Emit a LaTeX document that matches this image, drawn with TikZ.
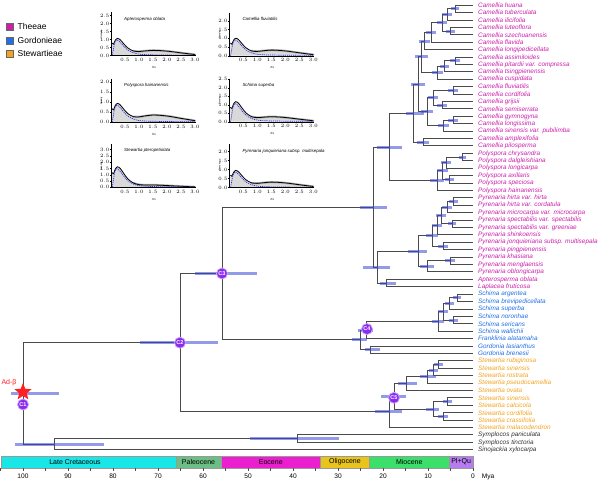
\documentclass[tikz,border=0pt]{standalone}
\usepackage{fontspec}
\setmainfont{Liberation Sans}
\usetikzlibrary{shapes.geometric}
\definecolor{theC}{HTML}{CC1FAA}
\definecolor{gorC}{HTML}{1F6FE5}
\definecolor{steC}{HTML}{F2A31F}
\definecolor{ogC}{HTML}{333333}
\definecolor{brC}{HTML}{4A4A4A}
\definecolor{hpdC}{HTML}{3A48D6}
\definecolor{cpur}{HTML}{8A2BF0}
\definecolor{starC}{HTML}{FF2020}
\definecolor{histC}{HTML}{D9D9D9}
\definecolor{dashC}{HTML}{3030E0}
\definecolor{ecret}{HTML}{19E6E6}
\definecolor{epal}{HTML}{6CBF84}
\definecolor{eeoc}{HTML}{EC1FD0}
\definecolor{eoli}{HTML}{E9C41A}
\definecolor{emio}{HTML}{3BE06A}
\definecolor{eplq}{HTML}{B77CF2}
\tikzset{
  branch/.style={draw=brC, line width=1pt},
  hpd/.style={draw=hpdC, line width=3pt, opacity=0.55},
  tiplab/.style={anchor=west, font=\fontsize{6.4}{7}\selectfont\itshape, inner sep=0pt},
  cnode/.style={circle, fill=cpur, draw=cpur!45, line width=0.8pt, text=white,
    font=\fontsize{5.5}{5.5}\selectfont\bfseries, inner sep=0pt, minimum size=11pt},
  ticklab/.style={font=\fontsize{2.3}{2.5}\selectfont, inner sep=0pt},
  ptitle/.style={font=\fontsize{4.4}{4.6}\selectfont\itshape, inner sep=0pt},
  ksl/.style={font=\fontsize{3}{3.2}\selectfont\itshape, inner sep=0pt},
  legsq/.style={draw=black!60, line width=0.3pt, minimum size=7pt, inner sep=0pt},
  legtxt/.style={anchor=west, font=\fontsize{8.5}{9}\selectfont, inner sep=0pt},
  eplab/.style={font=\fontsize{7}{8}\selectfont, inner sep=0pt},
  axlab/.style={font=\fontsize{6.6}{7}\selectfont, inner sep=0pt}
}
% #1 x0, #2 y0, #3 px per density unit, #4 title, #5 top y label, #6 peak, #7 hump, #8 id
\newcommand\KsPanel[8]{%
\begin{scope}[shift={(#1,#2)}]
  \begin{scope}[x=28pt,y=#3pt]
    \fill[histC] (0.035,0) -- plot[smooth,tension=0.5] coordinates {(0.04,{0.72*#6}) (0.09,{0.66*#6}) (0.15,{0.88*#6}) (0.23,{#6}) (0.33,{0.92*#6}) (0.45,{0.68*#6+0.05*#7}) (0.6,{0.4*#6+0.15*#7}) (0.8,{0.18*#6+0.3*#7}) (1.0,{0.08*#6+0.55*#7}) (1.2,{0.04*#6+0.8*#7}) (1.5,{0.02*#6+#7}) (1.8,{0.01*#6+0.97*#7}) (2.1,{0.85*#7}) (2.5,{0.55*#7}) (3.0,{0.2*#7})} -- (3,0) -- cycle;
    \fill[histC!80!black] (0.005,0) rectangle (0.04,{30/#3});
    \draw[black,line width=0.9pt] (0.02,0) -- (0.02,{42/#3});
    \draw[gray!60,line width=2.2pt,line cap=round] plot[smooth,tension=0.5] coordinates {(0.8,{0.18*#6+0.3*#7}) (1.0,{0.08*#6+0.55*#7}) (1.2,{0.04*#6+0.8*#7}) (1.5,{0.02*#6+#7}) (1.8,{0.01*#6+0.97*#7}) (2.1,{0.85*#7}) (2.5,{0.55*#7}) (3.0,{0.2*#7})};
    \draw[black,line width=0.8pt] plot[smooth,tension=0.5] coordinates {(0.04,{0.72*#6}) (0.09,{0.66*#6}) (0.15,{0.88*#6}) (0.23,{#6}) (0.33,{0.92*#6}) (0.45,{0.68*#6+0.05*#7}) (0.6,{0.4*#6+0.15*#7}) (0.8,{0.18*#6+0.3*#7}) (1.0,{0.08*#6+0.55*#7}) (1.2,{0.04*#6+0.8*#7}) (1.5,{0.02*#6+#7}) (1.8,{0.01*#6+0.97*#7}) (2.1,{0.85*#7}) (2.5,{0.55*#7}) (3.0,{0.2*#7})};
    \draw[dashC,line width=0.7pt,dash pattern=on 1.2pt off 0.9pt] plot[smooth,tension=0.5] coordinates {(0.045,0) (0.08,{0.3*#6}) (0.13,{0.72*#6}) (0.2,{0.9*#6}) (0.3,{0.82*#6}) (0.45,{0.55*#6}) (0.6,{0.32*#6}) (0.8,{0.16*#6}) (1.0,{0.08*#6}) (1.3,{0.045*#6}) (1.8,{0.03*#6}) (2.4,{0.02*#6}) (3.0,{0.02*#6})};
  \end{scope}
  \draw[line width=0.35pt] (0,-43) -- (0,0) -- (84,0);
  \foreach \v [count=\n] in {0,0.5,...,#5} {
    \draw[line width=0.3pt] (0,{-\v*#3}) -- (-1,{-\v*#3});
    \node[ticklab,anchor=east] (#8y\n) at (-1.6,{-\v*#3}) {\pgfmathprintnumber[fixed,fixed zerofill,precision=1]{\v}};
  }
  \foreach \v [count=\n] in {0.5,1.0,...,3.0} {
    \draw[line width=0.3pt] ({\v*28},0) -- ({\v*28},1);
    \node[ticklab] (#8x\n) at ({\v*28},4.6) {\pgfmathprintnumber[fixed,fixed zerofill,precision=1]{\v}};
  }
  \node[ptitle,anchor=west] (#8t) at (13,-36.5) {#4};
  \node[ksl] (#8k) at (43,12) {Ks};
  \node[ticklab,rotate=90] (#8d) at (-9.5,-21) {Density};
\end{scope}}

\begin{document}
\begin{tikzpicture}[x=1pt,y=-1pt]
\useasboundingbox (0,0) rectangle (600,481);

% ---------- Ks panels ----------
\KsPanel{111}{55.5}{16}{Apterosperma oblata}{2.5}{1.07}{0.3}{pa}
\KsPanel{111}{122}{20}{Polyspora hainanensis}{2.0}{0.93}{0.33}{pb}
\KsPanel{111}{187.3}{12.6}{Stewartia pteropetiolata}{3.0}{1.63}{0.15}{pc}
\KsPanel{229.3}{55.7}{17.5}{Camellia fluviatilis}{2.0}{1.0}{0.3}{pd}
\KsPanel{229.3}{121.7}{17}{Schima superba}{2.5}{1.18}{0.27}{pe}
\KsPanel{229.3}{187.5}{18}{Pyrenaria jonquieriana subsp. multisepala}{2.0}{0.95}{0.28}{pf}

% ---------- legend ----------
\node[legsq, fill=theC] (lsq1) at (9.5,26.7) {};
\node[legtxt] (ltx1) at (17.5,26.7) {Theeae};
\node[legsq, fill=gorC] (lsq2) at (9.5,40.7) {};
\node[legtxt] (ltx2) at (17.5,40.7) {Gordonieae};
\node[legsq, fill=steC] (lsq3) at (9.5,53.3) {};
\node[legtxt] (ltx3) at (17.5,53.3) {Stewartieae};

% ---------- tree ----------
\begin{scope}[shift={(0,5.2)}, y=-7.41pt]
\foreach \i in {0,...,60} \coordinate (t\i) at (473,\i);
\coordinate (a1) at (455,0.5);
\coordinate (a2) at (447,1.25);
\coordinate (a3) at (450,3.5);
\coordinate (a4) at (442,2.375);
\coordinate (a5) at (431,3.6875);
\coordinate (a6) at (424,4.84375);
\coordinate (b1) at (455,7.5);
\coordinate (b2) at (444,8.25);
\coordinate (b3) at (437,9.125);
\coordinate (P) at (421,6.984375);
\coordinate (c1) at (453,11.5);
\coordinate (c2) at (442,13.5);
\coordinate (cc) at (433,12.5);
\coordinate (d1) at (453,15.5);
\coordinate (d2) at (443,16.25);
\coordinate (Q) at (427,14.375);
\coordinate (X) at (418,10.6797);
\coordinate (e1) at (423,18.5);
\coordinate (Cam) at (413,14.5898);
\coordinate (p1) at (462,20.5);
\coordinate (p2) at (446,21.25);
\coordinate (p3) at (449,23.5);
\coordinate (p4) at (442,22.375);
\coordinate (Poly) at (437,23.6875);
\coordinate (CP) at (389,19.1387);
\coordinate (r1) at (453,26.5);
\coordinate (r2) at (447,27.25);
\coordinate (r3) at (452,29.5);
\coordinate (r4) at (441,28.375);
\coordinate (r5) at (437,29.6875);
\coordinate (r6) at (443,32.5);
\coordinate (r7) at (432,31.0938);
\coordinate (r8) at (450,34.5);
\coordinate (r9) at (427,35.25);
\coordinate (Pyr) at (418,33.1719);
\coordinate (ap) at (386,37.5);
\coordinate (A) at (377,35.3359);
\coordinate (The) at (373,27.2373);
\coordinate (s1) at (457,39.5);
\coordinate (s2) at (449,40.25);
\coordinate (s3) at (453,42.5);
\coordinate (s4) at (443,41.375);
\coordinate (Sch) at (438,42.6875);
\coordinate (nC4) at (366,43.8438);
\coordinate (g1) at (370,46.5);
\coordinate (Gor) at (360,45.1719);
\coordinate (nC3) at (222,36.2046);
\coordinate (w1) at (438,48.5);
\coordinate (w2) at (433,49.25);
\coordinate (w3) at (427,50.125);
\coordinate (w4) at (406,51.0625);
\coordinate (v1) at (447,53.5);
\coordinate (v2) at (443,55.5);
\coordinate (v3) at (433,54.5);
\coordinate (nC5) at (394,52.7813);
\coordinate (Stw) at (389,54.8906);
\coordinate (nC2) at (180,45.5475);
\coordinate (sy) at (297,58.5);
\coordinate (og) at (54,59.25);
\coordinate (root) at (23,52.3988);

\foreach \p/\c in {a1/t0,a1/t1,a2/a1,a2/t2,a3/t3,a3/t4,a4/a2,a4/a3,a5/a4,a5/t5,a6/a5,a6/t6,
  b1/t7,b1/t8,b2/b1,b2/t9,b3/b2,b3/t10,P/a6,P/b3,c1/t11,c1/t12,c2/t13,c2/t14,cc/c1,cc/c2,
  d1/t15,d1/t16,d2/d1,d2/t17,Q/cc,Q/d2,X/P,X/Q,e1/t18,e1/t19,Cam/X,Cam/e1,
  p1/t20,p1/t21,p2/p1,p2/t22,p3/t23,p3/t24,p4/p2,p4/p3,Poly/p4,Poly/t25,CP/Cam,CP/Poly,
  r1/t26,r1/t27,r2/r1,r2/t28,r3/t29,r3/t30,r4/r2,r4/r3,r5/r4,r5/t31,r6/t32,r6/t33,r7/r5,r7/r6,
  r8/t34,r8/t35,r9/r8,r9/t36,Pyr/r7,Pyr/r9,ap/t37,ap/t38,A/Pyr,A/ap,The/CP,The/A,
  s1/t39,s1/t40,s2/s1,s2/t41,s3/t42,s3/t43,s4/s2,s4/s3,Sch/s4,Sch/t44,nC4/Sch,nC4/t45,
  g1/t46,g1/t47,Gor/nC4,Gor/g1,nC3/The,nC3/Gor,
  w1/t48,w1/t49,w2/w1,w2/t50,w3/w2,w3/t51,w4/w3,w4/t52,v1/t53,v1/t54,v2/t55,v2/t56,v3/v1,v3/v2,
  nC5/w4,nC5/v3,Stw/nC5,Stw/t57,nC2/nC3,nC2/Stw,sy/t58,sy/t59,og/sy,og/t60,root/nC2,root/og}
  \draw[branch] (\p) |- (\c);

\foreach \n/\bl/\br in {a1/4/4,a2/5/5,a3/4/5,a4/5/5,a5/5/5,a6/5/6,b1/5/5,b2/4/5,b3/5/6,P/6/7,
  c1/5/5,c2/5/5,cc/5/5,d1/5/5,d2/5/6,Q/6/6,X/7/7,e1/6/6,Cam/7/11,
  p1/3/4,p2/5/5,p3/4/5,p4/5/6,Poly/7/7,CP/12/13,
  r1/4/5,r2/5/5,r3/4/4,r4/5/5,r5/5/5,r6/5/5,r7/6/6,r8/5/5,r9/7/7,Pyr/10/9,ap/6/10,A/14/13,The/13/14,
  s1/4/4,s2/4/5,s3/4/5,s4/5/5,Sch/6/6,nC4/8/7,g1/5/10,Gor/8/7,nC3/27/35,
  w1/4/5,w2/4/5,w3/7/9,w4/8/11,v1/4/5,v2/5/5,v3/7/6,nC5/13/12,Stw/14/13,
  nC2/40/38,sy/47/42,og/39/50,root/12/36}
  \draw[hpd] ([xshift=-\bl]\n) -- ([xshift=\br]\n);

\foreach \i/\nm/\col in {0/Camellia huana/theC,1/Camellia tuberculata/theC,2/Camellia ilicifolia/theC,
  3/Camellia luteoflora/theC,4/Camellia szechuanensis/theC,5/Camellia flavida/theC,
  6/Camellia longipedicellata/theC,7/Camellia assimiloides/theC,8/Camellia pitardii var. compressa/theC,
  9/Camellia tsingpienensis/theC,10/Camellia cuspidata/theC,11/Camellia fluviatilis/theC,
  12/Camellia cordifolia/theC,13/Camellia grijsii/theC,14/Camellia semiserrata/theC,
  15/Camellia gymnogyna/theC,16/Camellia longissima/theC,17/Camellia sinensis var. pubilimba/theC,
  18/Camellia amplexifolia/theC,19/Camellia pilosperma/theC,20/Polyspora chrysandra/theC,
  21/Polyspora dalgleishiana/theC,22/Polyspora longicarpa/theC,23/Polyspora axillaris/theC,
  24/Polyspora speciosa/theC,25/Polyspora hainanensis/theC,26/Pyrenaria hirta var. hirta/theC,
  27/Pyrenaria hirta var. cordatula/theC,28/Pyrenaria microcarpa var. microcarpa/theC,
  29/Pyrenaria spectabilis var. spectabilis/theC,30/Pyrenaria spectabilis var. greeniae/theC,
  31/Pyrenaria shinkoensis/theC,32/Pyrenaria jonquieriana subsp. multisepala/theC,
  33/Pyrenaria pingpienensis/theC,34/Pyrenaria khasiana/theC,35/Pyrenaria menglaensis/theC,
  36/Pyrenaria oblongicarpa/theC,37/Apterosperma oblata/theC,38/Laplacea fruticosa/theC,
  39/Schima argentea/gorC,40/Schima brevipedicellata/gorC,41/Schima superba/gorC,
  42/Schima noronhae/gorC,43/Schima sericans/gorC,44/Schima wallichii/gorC,
  45/Franklinia alatamaha/gorC,46/Gordonia lasianthus/gorC,47/Gordonia brenesii/gorC,
  48/Stewartia rubiginosa/steC,49/Stewartia sinensis/steC,50/Stewartia rostrata/steC,
  51/Stewartia pseudocamellia/steC,52/Stewartia ovata/steC,53/Stewartia sinensis/steC,
  54/Stewartia calcicola/steC,55/Stewartia cordifolia/steC,56/Stewartia crassifolia/steC,
  57/Stewartia malacodendron/steC,58/Symplocos paniculata/ogC,59/Symplocos tinctoria/ogC,
  60/Sinojackia xylocarpa/ogC}
  \node[tiplab, text=\col] (lab\i) at ([xshift=5pt]t\i) {\nm};

\node[cnode] (lc2) at (nC2) {C2};
\node[cnode] (lc3) at (nC3) {C3};
\node[cnode] (lc4) at ([xshift=1pt,yshift=1pt]nC4) {C4};
\node[cnode] (lc5) at ([yshift=-1.5pt]nC5) {C5};
\node[star, star points=5, star point ratio=2.3, fill=starC, draw=none, minimum size=18pt, inner sep=0pt] (adstar) at ([yshift=1.5pt]root) {};
\node[cnode] (lc1) at ([yshift=-11pt]root) {C1};
\node[text=starC, font=\fontsize{7}{8}\selectfont, inner sep=0pt] (adlab) at ([xshift=-14pt,yshift=11pt]root) {Ad-β};
\end{scope}

% ---------- time scale ----------
\foreach \xa/\xb/\col [count=\k] in {1/176/ecret,176/221/epal,221/320.6/eeoc,320.6/369.5/eoli,369.5/449.2/emio,449.2/473/eplq}
  \filldraw[fill=\col, draw=black!40, line width=0.3pt] (\xa,456) rectangle (\xb,468);
\node[eplab] (ep1) at (75,462) {Late Cretaceous};
\node[eplab] (ep2) at (198.5,462) {Paleocene};
\node[eplab] (ep3) at (270.8,462) {Eocene};
\node[eplab] (ep4) at (345,462) {Oligocene};
\node[eplab] (ep5) at (409.3,462) {Miocene};
\node[eplab] (ep6) at (461.1,462) {Pl+Qu};
\foreach \t in {0,5,...,105} \draw[line width=0.4pt, black!70] ({473-4.5*\t},468) -- ({473-4.5*\t},471);
\foreach \t in {0,10,...,100} \node[axlab] (ax\t) at ({473-4.5*\t},476.5) {\t};
\node[axlab] (mya) at (488,476.5) {Mya};
\end{tikzpicture}
\end{document}
